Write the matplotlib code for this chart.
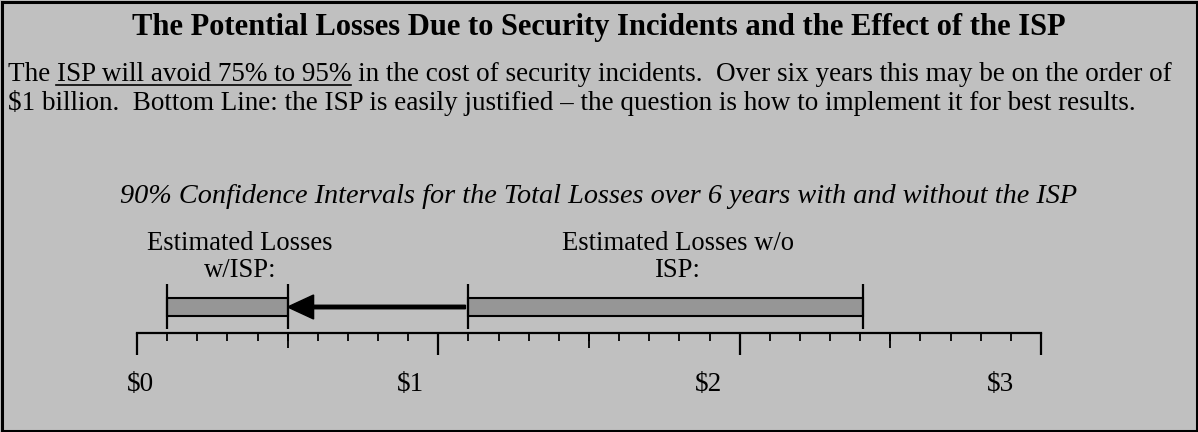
import matplotlib
matplotlib.use("Agg")
import matplotlib.pyplot as plt
from matplotlib.patches import Rectangle

# Data: 90% confidence intervals for total losses over 6 years ($ billions)
interval_names = ["Estimated Losses\nw/ISP:", "Estimated Losses w/o\nISP:"]
interval_low = [0.1, 1.1]
interval_high = [0.5, 2.41]
arrow_from = 1.09          # arrow starts at the w/o-ISP interval
arrow_to = 0.5             # and points to the w/ISP upper bound
tick_values = [0, 1, 2, 3]
tick_labels = ["$0", "$1", "$2", "$3"]

title = "The Potential Losses Due to Security Incidents and the Effect of the ISP"
para_1a = "The"
para_1u = "ISP will avoid 75% to 95%"
para_1b = " in the cost of security incidents.  Over six years this may be on the order of"
para_2 = "$1 billion.  Bottom Line: the ISP is easily justified \u2013 the question is how to implement it for best results."
subtitle = "90% Confidence Intervals for the Total Losses over 6 years with and without the ISP"

W, H = 1198, 432
bg = "#c0c0c0"
bar_color = "#969696"
serif = "Liberation Serif"
fs = 19.5

fig = plt.figure(figsize=(W / 100, H / 100), dpi=100, facecolor=bg)
fig.patches.append(Rectangle((1.5 / W, 1.5 / H), 1 - 3 / W, 1 - 3 / H, transform=fig.transFigure,
                             fill=False, edgecolor="black", linewidth=2.2))


def fx(px):
    return px / W


def fy(py):
    return 1 - py / H


# title and text block (positions are baselines in pixels)
fig.text(fx(599), fy(35), title, ha="center", va="baseline", family=serif,
         fontsize=22, fontweight="bold")

renderer = fig.canvas.get_renderer()
t1 = fig.text(fx(8), fy(81), para_1a + " " + para_1u + para_1b, ha="left", va="baseline",
              family=serif, fontsize=fs)
fig.text(fx(8), fy(110), para_2, ha="left", va="baseline", family=serif, fontsize=fs)

# underline "ISP will avoid 75% to 95%"
m1 = fig.text(0, 0, para_1a, family=serif, fontsize=fs)
m2 = fig.text(0, 0, para_1a + " " + para_1u, family=serif, fontsize=fs)
m3 = fig.text(0, 0, "T T", family=serif, fontsize=fs)
m4 = fig.text(0, 0, "TT", family=serif, fontsize=fs)
x0 = t1.get_window_extent(renderer).x0
w1 = m1.get_window_extent(renderer).width
w2 = m2.get_window_extent(renderer).width
sp = m3.get_window_extent(renderer).width - m4.get_window_extent(renderer).width
for m in (m1, m2, m3, m4):
    m.remove()
fig.add_artist(plt.Line2D([(x0 + w1 + sp) / W, (x0 + w2) / W], [fy(85), fy(85)],
                          color="black", linewidth=1.2))

fig.text(fx(599), fy(203), subtitle, ha="center", va="baseline", family=serif,
         fontsize=20.3, style="italic")

# number line axes: $0 at x=137 px, $3 at x=1041 px, axis line at y=333 px
ax = fig.add_axes([fx(137), fy(333), fx(1041 - 137), 63 / H])
ax.set_facecolor("none")
ax.set_xlim(0, 3)
ax.set_ylim(0, 63)
for s in ("top", "left", "right"):
    ax.spines[s].set_visible(False)
ax.spines["bottom"].set_linewidth(1.6)
ax.set_yticks([])

ax.set_xticks(tick_values)
ax.set_xticklabels([])
ax.set_xticks([v / 10 for v in range(31)], minor=True)
ax.tick_params(axis="x", which="major", direction="out", length=15.5, width=1.6)
ax.tick_params(axis="x", which="minor", direction="out", length=5.5, width=1.3)

sec = ax.secondary_xaxis("bottom")
sec.set_xticks([0.5, 1.5, 2.5])
sec.set_xticklabels([])
sec.tick_params(direction="out", length=10.5, width=1.3)
sec.spines["bottom"].set_visible(False)

# tick labels sit left of their ticks in the original
label_x = [0.013, 0.906, 1.898, 2.864]
for lx, lab in zip(label_x, tick_labels):
    ax.text(lx, -58, lab, ha="center", va="baseline", family=serif, fontsize=fs, clip_on=False)

# interval bars
bar_y, bar_h = 26, 18
for lo, hi in zip(interval_low, interval_high):
    ax.barh(bar_y, hi - lo, left=lo, height=bar_h, color=bar_color, edgecolor="black", linewidth=1.5)
    ax.vlines([lo, hi], 4, 49, color="black", linewidth=1.6)

# label above each interval
label_pos = [0.342, 1.796]
for lx, name in zip(label_pos, interval_names):
    ax.text(lx, 76, name, ha="center", va="center", family=serif, fontsize=19.2,
            linespacing=1.1, clip_on=False)

ax.arrow(arrow_from, bar_y, arrow_to - arrow_from, 0, width=3.5, head_width=24, head_length=0.086,
         length_includes_head=True, color="black")

fig.savefig("out.png", dpi=100, facecolor=bg)
